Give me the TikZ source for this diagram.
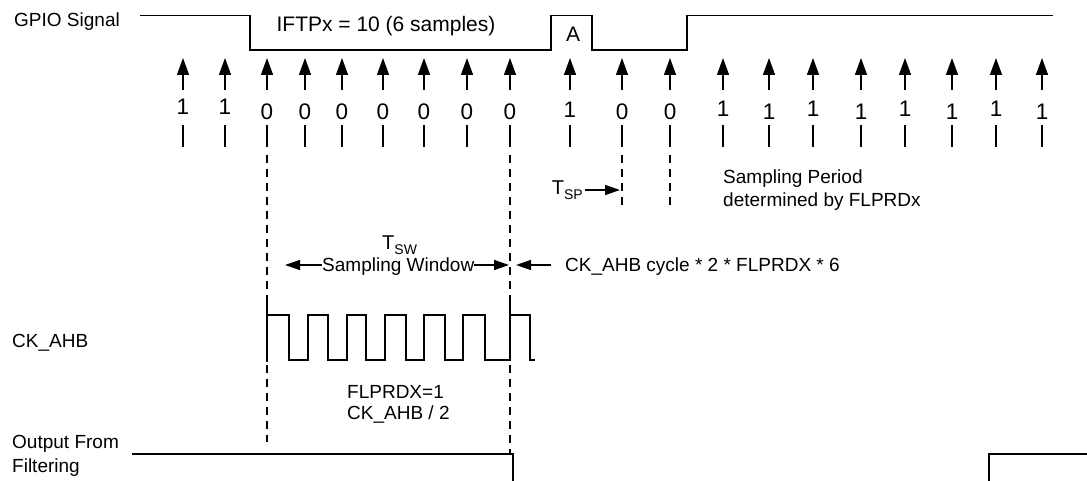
\documentclass[tikz,border=0pt]{standalone}
\usepackage{fontspec}
\setmainfont{Liberation Sans}
\usetikzlibrary{arrows.meta}
\begin{document}
\begin{tikzpicture}[x=1pt,y=-1pt,
  sig/.style={line width=1.5pt},
  samp/.style={line width=1.5pt,-{Triangle[length=17pt,width=12pt]}},
  dimarr/.style={line width=1.5pt,-{Triangle[length=15pt,width=10pt]}},
  dsh/.style={line width=1.5pt,dash pattern=on 8pt off 6pt},
  lbl/.style={inner sep=0pt,font=\fontsize{19}{23}\selectfont},
  big/.style={inner sep=0pt,font=\fontsize{21}{25}\selectfont},
  digit/.style={inner sep=0pt,font=\fontsize{22.5}{25}\selectfont},
  tlbl/.style={inner sep=0pt,font=\fontsize{20}{24}\selectfont}]
\useasboundingbox (0,0) rectangle (1087,481);
\newcommand{\subsc}[1]{\raisebox{-5pt}{\fontsize{14}{14}\selectfont #1}}

% GPIO signal
\node[lbl,anchor=base west] (gpio) at (14,27) {GPIO Signal};
\draw[sig] (140,15.5) -- (250,15.5) -- (250,50) -- (551,50) -- (551,15.5) -- (592,15.5)
  -- (592,50) -- (687,50) -- (687,15.5) -- (1053,15.5);
\node[big,anchor=base] (iftp) at (386,32) {IFTPx = 10 (6 samples)};
\node[big,anchor=base] (a) at (573,42) {A};

% sample arrows, values and ticks
\foreach \x/\v/\b [count=\i] in {183/1/115, 225/1/115, 267/0/120, 305/0/120, 342/0/120,
  383/0/120, 424/0/120, 467/0/120, 510/0/120, 570/1/118, 622/0/120, 670/0/120,
  723/1/117, 769/1/120, 813/1/117, 861/1/120, 905/1/117, 952/1/120, 996/1/117, 1042/1/120} {
  \coordinate (s\i) at (\x,90);
  \coordinate (t\i) at (\x,58);
  \draw[samp] (s\i) -- (t\i);
  \node[digit,anchor=base] (d\i) at (\x,\b) {\v};
  \coordinate (k\i) at (\x,125);
  \coordinate (m\i) at (\x,147);
  \draw[sig] (k\i) -- (m\i);
}

% dashed guide lines
\coordinate (w1) at (267,155); \coordinate (w2) at (267,442);
\coordinate (v1) at (510,155); \coordinate (v2) at (510,454);
\coordinate (p1) at (622,155); \coordinate (p2) at (622,205);
\coordinate (q1) at (670,155); \coordinate (q2) at (670,205);
\draw[dsh] (w1) -- (w2);
\draw[dsh] (v1) -- (v2);
\draw[dsh] (p1) -- (p2);
\draw[dsh] (q1) -- (q2);

% T_SP
\node[tlbl,anchor=base east] (tsp) at (583,195) {T\subsc{SP}};
\coordinate (tspA) at (585,190); \coordinate (tspB) at (620,190);
\draw[dimarr] (tspA) -- (tspB);

\node[lbl,anchor=base west] (sp1) at (723,184) {Sampling Period};
\node[lbl,anchor=base west] (sp2) at (723,207) {determined by FLPRDx};

% T_SW
\node[tlbl,anchor=base west] (tsw) at (382,250) {T\subsc{SW}};
\node[lbl,anchor=base west] (sw) at (322,272) {Sampling Window};
\coordinate (swl) at (285,265); \coordinate (swr) at (509,265);
\draw[dimarr] (sw.west |- swl) -- (swl);
\draw[dimarr] (sw.east |- swr) -- (swr);
\node[lbl,anchor=base west] (cyc) at (565,272) {CK\_AHB cycle * 2 * FLPRDX * 6};
\coordinate (cycA) at (551,265); \coordinate (cycB) at (516,265);
\draw[dimarr] (cycA) -- (cycB);

% clock
\node[lbl,anchor=base west] (ck) at (12,347) {CK\_AHB};
\draw[sig] (267,302) -- (267,362);
\draw[sig] (267,315) -- (289,315) -- (289,360) -- (308,360) -- (308,315) -- (328,315)
  -- (328,360) -- (347,360) -- (347,315) -- (366,315) -- (366,360) -- (385,360)
  -- (385,315) -- (406,315) -- (406,360) -- (424,360) -- (424,315) -- (445,315)
  -- (445,360) -- (463,360) -- (463,315) -- (485,315) -- (485,360) -- (510,360)
  -- (510,302);
\draw[sig] (510,315) -- (530,315) -- (530,360) -- (535,360);
\node[lbl,anchor=base west] (fl1) at (347,398) {FLPRDX=1};
\node[lbl,anchor=base west] (fl2) at (347,419) {CK\_AHB / 2};

% output
\node[lbl,anchor=base west] (out1) at (12,448) {Output From};
\node[lbl,anchor=base west] (out2) at (12,472) {Filtering};
\draw[sig] (132,454) -- (513,454) -- (513,481);
\draw[sig] (989,481) -- (989,454) -- (1087,454);
\end{tikzpicture}
\end{document}
